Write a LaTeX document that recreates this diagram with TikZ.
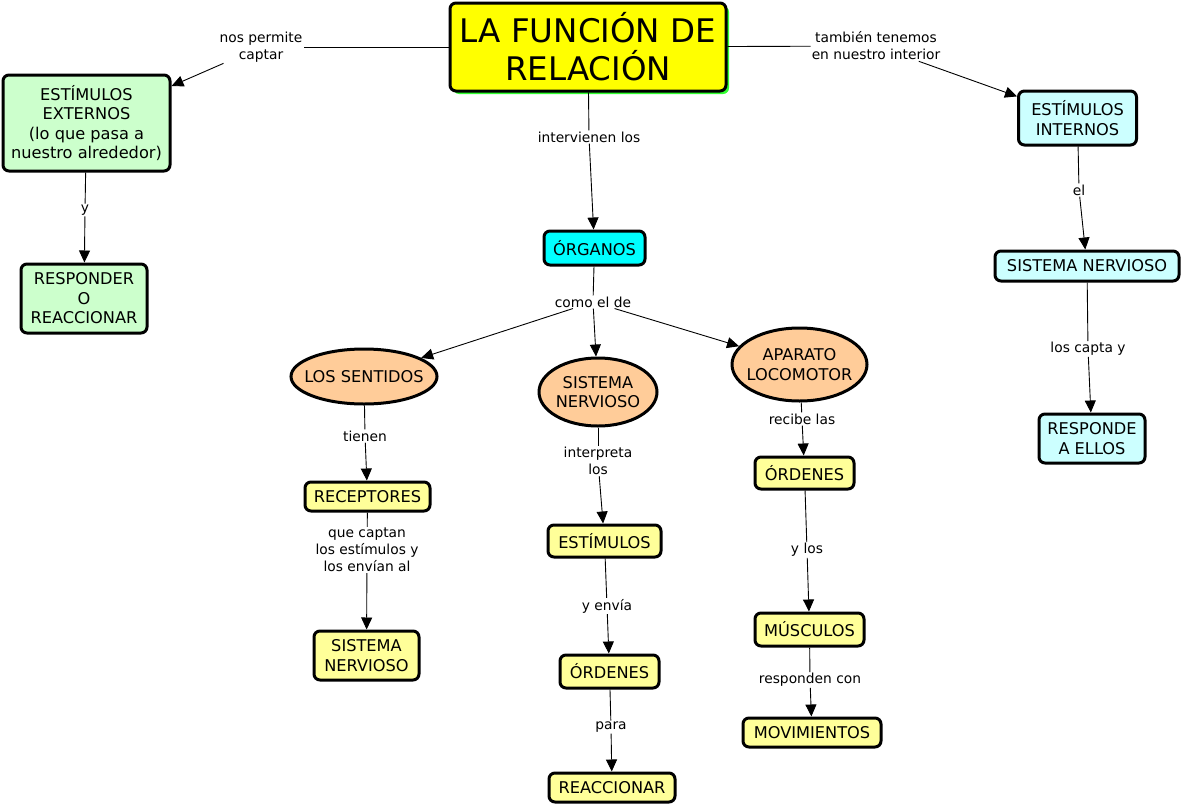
\documentclass[tikz,border=0pt]{standalone}
\usepackage{fontspec}
\setmainfont{DejaVu Sans}
\usetikzlibrary{arrows.meta,shapes.geometric,shadows}
\definecolor{titley}{RGB}{255,255,0}
\definecolor{shgreen}{RGB}{51,255,51}
\definecolor{lgreen}{RGB}{204,255,204}
\definecolor{lcyan}{RGB}{204,255,255}
\definecolor{cyanb}{RGB}{0,255,255}
\definecolor{lyellow}{RGB}{255,255,153}
\definecolor{orng}{RGB}{255,204,153}
\begin{document}
\begin{tikzpicture}[x=1pt,y=-1pt,
  box/.style={draw=black,line width=3pt,rounded corners=6pt,align=center,inner sep=0pt,
    font=\fontsize{16.2}{19.5}\selectfont},
  ell/.style={ellipse,draw=black,line width=3pt,fill=orng,align=center,inner ysep=0pt,inner xsep=-10pt,
    font=\fontsize{16.2}{19.5}\selectfont},
  lab/.style={align=center,inner sep=1pt,fill=white,font=\fontsize{13.8}{17}\selectfont},
  con/.style={line width=0.9pt},
  arr/.style={con,-{Triangle[length=12pt,width=11pt]}},
]
\useasboundingbox (0,0) rectangle (1181,806);
\fill[white] (0,0) rectangle (1181,806);

% title
\node[box,fill=titley,minimum width=276pt,minimum height=88pt,
  font=\fontsize{32.5}{38}\selectfont,
  drop shadow={fill=shgreen,opacity=1,shadow xshift=3pt,shadow yshift=-3pt}]
  (title) at (588,47) {LA FUNCIÓN DE\\RELACIÓN};

% nodes
\node[box,fill=lgreen,minimum width=167pt,minimum height=96pt] (ext) at (86.5,123)
  {ESTÍMULOS\\EXTERNOS\\(lo que pasa a\\nuestro alrededor)};
\node[box,fill=lgreen,minimum width=126pt,minimum height=69pt] (resp) at (84,298.5)
  {RESPONDER\\O\\REACCIONAR};
\node[box,fill=cyanb,minimum width=101pt,minimum height=34pt] (org) at (594.5,248) {ÓRGANOS};
\node[ell,minimum width=146pt,minimum height=55pt] (sent) at (364,376.5) {LOS SENTIDOS};
\node[ell,minimum width=118pt,minimum height=68pt] (snerv) at (598,392) {SISTEMA\\NERVIOSO};
\node[ell,minimum width=135pt,minimum height=73pt] (apar) at (799.5,364.5) {APARATO\\LOCOMOTOR};
\node[box,fill=lyellow,minimum width=125pt,minimum height=29pt] (recep) at (367.5,496.5) {RECEPTORES};
\node[box,fill=lyellow,minimum width=105pt,minimum height=49pt] (snA) at (366.5,655.5) {SISTEMA\\NERVIOSO};
\node[box,fill=lyellow,minimum width=113pt,minimum height=32pt] (estim) at (604.5,541) {ESTÍMULOS};
\node[box,fill=lyellow,minimum width=99pt,minimum height=33pt] (ordA) at (609.5,671.5) {ÓRDENES};
\node[box,fill=lyellow,minimum width=126pt,minimum height=29pt] (reacc) at (612,787.5) {REACCIONAR};
\node[box,fill=lyellow,minimum width=99pt,minimum height=32pt] (ordB) at (804.5,473) {ÓRDENES};
\node[box,fill=lyellow,minimum width=109pt,minimum height=33pt] (musc) at (809.5,629.5) {MÚSCULOS};
\node[box,fill=lyellow,minimum width=138pt,minimum height=29pt] (movim) at (812,732.5) {MOVIMIENTOS};
\node[box,fill=lcyan,minimum width=118pt,minimum height=54pt] (estint) at (1077.5,118) {ESTÍMULOS\\INTERNOS};
\node[box,fill=lcyan,minimum width=184pt,minimum height=30pt] (snB) at (1087,266) {SISTEMA NERVIOSO};
\node[box,fill=lcyan,minimum width=106pt,minimum height=49pt] (respel) at (1092,438.5) {RESPONDE\\A ELLOS};

% labels
\node[lab] (l1) at (261,47) {nos permite\\captar};
\node[lab] (l2) at (85,210) {y};
\node[lab] (l3) at (589,137) {intervienen los};
\node[lab] (l4) at (593,302) {como el de};
\node[lab] (l5) at (365,436) {tienen};
\node[lab] (l6) at (367,550) {que captan\\los estímulos y\\los envían al};
\node[lab] (l7) at (598,461) {interpreta\\los};
\node[lab] (l8) at (607,606) {y envía};
\node[lab] (l9) at (611,727) {para};
\node[lab] (l10) at (802,419) {recibe las};
\node[lab] (l11) at (807,550) {y los};
\node[lab] (l12) at (810,680) {responden con};
\node[lab] (l13) at (876,46) {también tenemos\\en nuestro interior};
\node[lab] (l14) at (1079,190) {el};
\node[lab] (l15) at (1088,349) {los capta y};

% connectors
\draw[con] (title) -- (l1);  \draw[arr] (l1) -- (ext);
\draw[con] (ext) -- (l2);    \draw[arr] (l2) -- (resp);
\draw[con] (title) -- (l3);  \draw[arr] (l3) -- (org);
\draw[con] (org) -- (l4);
\draw[arr] (l4) -- (sent);
\draw[arr] (l4) -- (snerv);
\draw[arr] (l4) -- (apar);
\draw[con] (sent) -- (l5);   \draw[arr] (l5) -- (recep);
\draw[con] (recep) -- (l6);  \draw[arr] (l6) -- (snA);
\draw[con] (snerv) -- (l7);  \draw[arr] (l7) -- (estim);
\draw[con] (estim) -- (l8);  \draw[arr] (l8) -- (ordA);
\draw[con] (ordA) -- (l9);   \draw[arr] (l9) -- (reacc);
\draw[con] (apar) -- (l10);  \draw[arr] (l10) -- (ordB);
\draw[con] (ordB) -- (l11);  \draw[arr] (l11) -- (musc);
\draw[con] (musc) -- (l12);  \draw[arr] (l12) -- (movim);
\draw[con] (title) -- (l13); \draw[arr] (l13) -- (estint);
\draw[con] (estint) -- (l14); \draw[arr] (l14) -- (snB);
\draw[con] (snB) -- (l15);   \draw[arr] (l15) -- (respel);
\end{tikzpicture}
\end{document}
